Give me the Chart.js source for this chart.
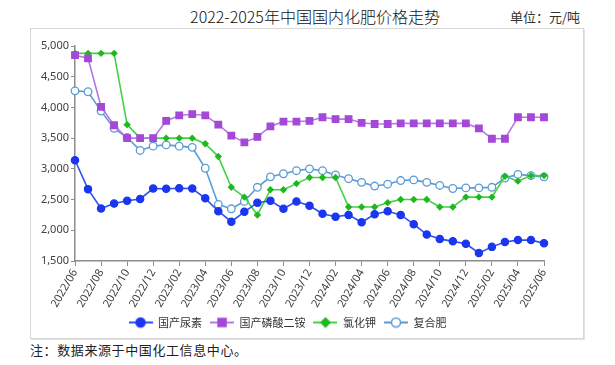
<!DOCTYPE html>
<html>
<head>
<meta charset="utf-8">
<script src="https://cdn.jsdelivr.net/npm/chart.js@4.4.1/dist/chart.umd.min.js"></script>
<style>
  html, body { margin: 0; padding: 0; background: #fff; width: 615px; height: 365px; overflow: hidden; }
  #title { position: absolute; left: 0; width: 630px; top: 4px; text-align: center; font-family: "Noto Sans CJK SC", sans-serif; font-size: 16px; font-weight: 300; color: #111; }
  #unit { position: absolute; left: 510px; top: 7px; font-family: "Noto Sans CJK SC", sans-serif; font-size: 13px; color: #333; }
  #box { position: absolute; left: 30px; top: 28px; width: 552px; height: 309px; border: 1px solid #d6d6d6; box-shadow: 1px 1px 0 #e4e4e4; }
  #note { position: absolute; left: 30px; top: 340px; font-family: "Noto Sans CJK SC", sans-serif; font-size: 13px; color: #222; letter-spacing: 0.6px; }
  canvas { position: absolute; left: 0; top: 0; }
</style>
</head>
<body>
<div id="title">2022-2025年中国国内化肥价格走势</div>
<div id="unit">单位：元/吨</div>
<div id="box"><canvas id="c" width="552" height="309"></canvas></div>
<div id="note">注：数据来源于中国化工信息中心。</div>
<script>
const months = [
  "2022/06","2022/07","2022/08","2022/09","2022/10","2022/11","2022/12",
  "2023/01","2023/02","2023/03","2023/04","2023/05","2023/06","2023/07","2023/08","2023/09","2023/10","2023/11","2023/12",
  "2024/01","2024/02","2024/03","2024/04","2024/05","2024/06","2024/07","2024/08","2024/09","2024/10","2024/11","2024/12",
  "2025/01","2025/02","2025/03","2025/04","2025/05","2025/06"
];
const seriesNames = ["国产尿素", "国产磷酸二铵", "氯化钾", "复合肥"];
const urea = [3140,2670,2355,2435,2480,2510,2680,2675,2685,2680,2520,2310,2140,2300,2450,2480,2350,2470,2400,2270,2220,2250,2130,2260,2310,2250,2100,1930,1860,1820,1780,1630,1730,1810,1840,1840,1790];
const dap = [4850,4800,4010,3710,3500,3500,3500,3780,3870,3890,3870,3720,3540,3430,3520,3690,3770,3770,3780,3840,3810,3810,3750,3730,3730,3740,3740,3740,3740,3740,3740,3660,3490,3490,3840,3840,3840];
const potash = [4880,4880,4880,4880,3720,3500,3500,3500,3500,3500,3410,3200,2700,2540,2250,2660,2660,2760,2860,2860,2860,2380,2380,2380,2450,2500,2500,2500,2380,2380,2540,2540,2540,2880,2800,2890,2890];
const compound = [4270,4255,3940,3660,3510,3300,3370,3390,3370,3350,3010,2420,2350,2470,2700,2870,2920,2970,3000,2970,2900,2840,2780,2720,2750,2810,2820,2780,2730,2680,2690,2690,2700,2850,2910,2890,2870];
const yTicks = { min: 1500, max: 5000, step: 500 };

const styles = [
  { line: "#2f4ff0", fill: "#1a36f0", stroke: "#1a36f0", shape: "circle", r: 3.6 },
  { line: "#b678e6", fill: "#a448d8", stroke: "#a448d8", shape: "rect", r: 4.6 },
  { line: "#44d244", fill: "#1fb81f", stroke: "#1fb81f", shape: "rectRot", r: 2.8 },
  { line: "#5b9bd5", fill: "#ffffff", stroke: "#5b9bd5", shape: "circle", r: 3.8 }
];

function legendIcon(s) {
  const cv = document.createElement("canvas");
  cv.width = 24; cv.height = 12;
  const g = cv.getContext("2d");
  g.strokeStyle = s.line; g.lineWidth = 2;
  g.beginPath(); g.moveTo(0, 6); g.lineTo(24, 6); g.stroke();
  g.fillStyle = s.fill; g.strokeStyle = s.stroke; g.lineWidth = 1.5;
  g.beginPath();
  if (s.shape === "circle") { g.arc(12, 6, 4.5, 0, Math.PI * 2); }
  else if (s.shape === "rect") { g.rect(8, 2, 8, 8); }
  else { g.moveTo(12, 1.5); g.lineTo(16.5, 6); g.lineTo(12, 10.5); g.lineTo(7.5, 6); g.closePath(); }
  g.fill(); g.stroke();
  return cv;
}

const dataArrays = [urea, dap, potash, compound];
const datasets = dataArrays.map((arr, i) => ({
  label: seriesNames[i],
  data: arr,
  borderColor: styles[i].line,
  borderWidth: 1.6,
  pointStyle: styles[i].shape,
  pointRadius: styles[i].r,
  pointBackgroundColor: styles[i].fill,
  pointBorderColor: styles[i].stroke,
  pointBorderWidth: 1.3,
  tension: 0,
  fill: false
}));

Chart.defaults.font.family = "'Noto Sans', 'Noto Sans CJK SC', sans-serif";

new Chart(document.getElementById("c"), {
  type: "line",
  data: { labels: months, datasets: datasets },
  options: {
    responsive: false,
    animation: false,
    devicePixelRatio: 1,
    layout: { padding: { left: 0, right: 39, top: 17, bottom: 0 } },
    plugins: {
      tooltip: { enabled: false },
      legend: {
        position: "bottom",
        labels: {
          usePointStyle: true,
          pointStyleWidth: 24,
          padding: 8,
          color: "#333",
          font: { family: "'Noto Sans CJK SC', sans-serif", size: 11 },
          generateLabels: (chart) => seriesNames.map((n, i) => ({
            text: n,
            pointStyle: legendIcon(styles[i]),
            fillStyle: styles[i].fill,
            strokeStyle: styles[i].line,
            lineWidth: 0,
            hidden: false,
            datasetIndex: i,
            fontColor: "#333"
          }))
        }
      }
    },
    scales: {
      x: {
        type: "category",
        offset: false,
        afterFit: (s) => { s.height = 48; },
        grid: { display: true, drawOnChartArea: false, drawTicks: true, tickLength: 5, color: "#8c8c8c" },
        border: { display: true, color: "#8c8c8c", width: 1.5 },
        ticks: {
          autoSkip: false,
          minRotation: 60,
          maxRotation: 60,
          padding: 1,
          color: "#404040",
          font: { size: 11 },
          callback: function (v, i) { return i % 2 === 0 ? months[i] : null; }
        }
      },
      y: {
        min: yTicks.min,
        max: yTicks.max,
        afterFit: (s) => { s.width = 44; },
        grid: { display: true, drawOnChartArea: false, drawTicks: true, tickLength: 4, color: "#8c8c8c" },
        border: { display: true, color: "#8c8c8c", width: 1.5 },
        ticks: {
          stepSize: yTicks.step,
          padding: 2,
          color: "#404040",
          font: { size: 11 },
          callback: (v) => v.toLocaleString("en-US")
        }
      }
    }
  }
});
</script>
</body>
</html>
